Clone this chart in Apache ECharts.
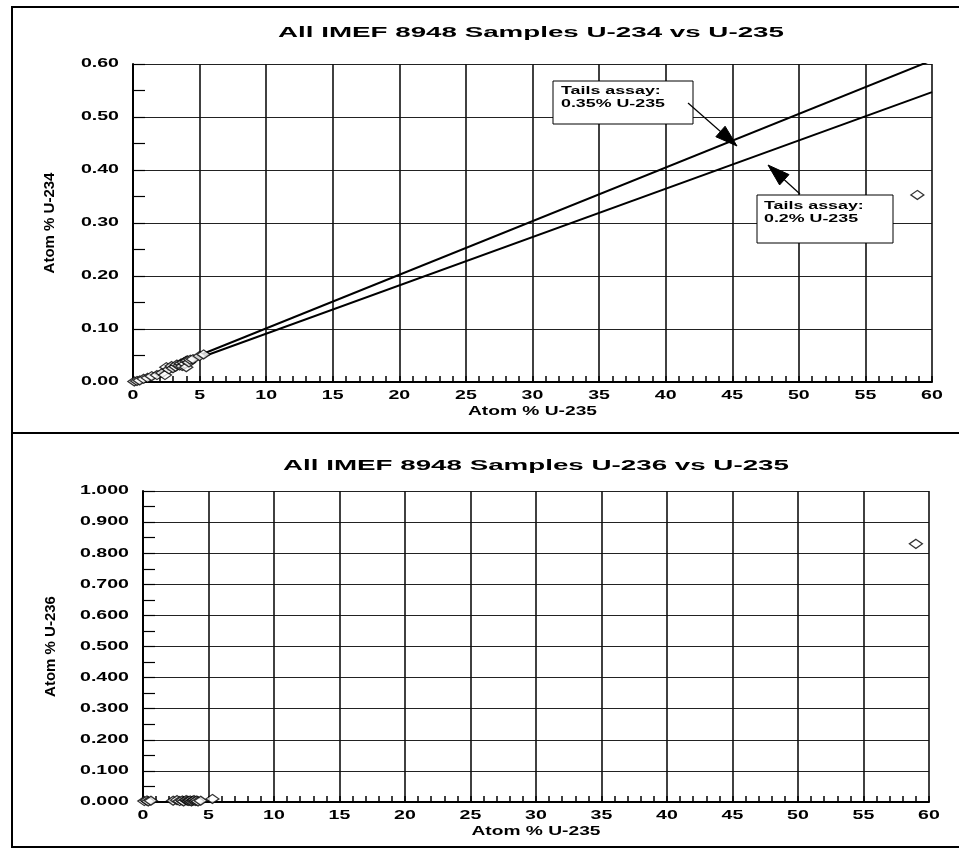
<!DOCTYPE html>
<html><head><meta charset="utf-8">
<script src="https://cdn.jsdelivr.net/npm/echarts@6/dist/echarts.min.js"></script>
<style>html,body{margin:0;padding:0;background:#fff}#c{width:959px;height:860px}</style>
</head><body><div id="c"></div>
<script>
// ---- data ----
const titleTop = 'All IMEF 8948 Samples U-234 vs U-235';
const titleBot = 'All IMEF 8948 Samples U-236 vs U-235';
const xName = 'Atom % U-235';
const yNameTop = 'Atom % U-234';
const yNameBot = 'Atom % U-236';

// U-234 vs U-235 samples
const u235Top = [0.1, 0.3, 0.5, 0.8, 1.1, 1.4, 1.8, 2.2, 2.4, 2.5, 2.7, 2.9, 3.0, 3.2, 3.3, 3.5, 3.6, 3.7, 3.8, 3.9, 4.0, 4.0, 4.1, 4.2, 4.3, 4.5, 5.0, 5.3, 58.9];
const u234Top = [0.001, 0.002, 0.003, 0.006, 0.008, 0.011, 0.013, 0.017, 0.013, 0.028, 0.024, 0.030, 0.026, 0.029, 0.033, 0.031, 0.035, 0.030, 0.037, 0.034, 0.040, 0.028, 0.041, 0.037, 0.042, 0.043, 0.049, 0.052, 0.353];

// Tails assay reference lines (end points)
const tailsX = [0, 60];
const tails035Y = [0, 0.607];
const tails020Y = [0, 0.547];

// U-236 vs U-235 samples
const u235Bot = [0.1, 0.3, 0.4, 0.6, 2.3, 2.6, 2.8, 3.0, 3.1, 3.3, 3.4, 3.5, 3.6, 3.7, 3.8, 3.9, 4.0, 4.1, 4.2, 4.4, 5.3, 59.0];
const u236Bot = [0.003, 0.005, 0.002, 0.004, 0.004, 0.006, 0.003, 0.005, 0.002, 0.006, 0.004, 0.003, 0.005, 0.002, 0.004, 0.006, 0.003, 0.005, 0.002, 0.004, 0.010, 0.830];

const note035 = 'Tails assay:\n0.35% U-235';
const note020 = 'Tails assay:\n0.2% U-235';

// ---- chart ----
const FONT = '"Liberation Sans", Arial, sans-serif';
const pairs = (xs, ys) => xs.map((x, i) => [x, ys[i]]);

function xAxis(gi) {
  return {
    type: 'value', gridIndex: gi, min: 0, max: 60, interval: 5,
    name: xName, nameLocation: 'middle', nameGap: 24,
    nameTextStyle: { fontFamily: FONT, fontWeight: 'bold', fontSize: 12, color: '#000' },
    axisLine: { show: true, onZero: false, lineStyle: { color: '#000', width: 2 } },
    axisTick: { show: true, inside: true, length: 6, lineStyle: { color: '#000', width: 1.5 } },
    minorTick: { show: true, splitNumber: 5, length: 6, lineStyle: { color: '#000', width: 1.5 } },
    axisLabel: { margin: 8, fontFamily: FONT, fontWeight: 'bold', fontSize: 12, color: '#000' },
    splitLine: { show: true, lineStyle: { color: '#111', width: 1.6 } },
    minorSplitLine: { show: false }
  };
}
function yAxis(gi, max, dec, name, gap) {
  return {
    type: 'value', gridIndex: gi, min: 0, max: max, interval: 0.1,
    name: name, nameLocation: 'middle', nameGap: gap,
    nameTextStyle: { fontFamily: FONT, fontWeight: 'bold', fontSize: 15, color: '#000' },
    axisLine: { show: true, onZero: false, lineStyle: { color: '#000', width: 2 } },
    axisTick: { show: true, inside: true, length: 12, lineStyle: { color: '#000', width: 1.2 } },
    minorTick: { show: true, splitNumber: 2, length: 12, lineStyle: { color: '#000', width: 1.2 } },
    axisLabel: { margin: 14, fontFamily: FONT, fontWeight: 'bold', fontSize: 12, color: '#000',
      formatter: v => v.toFixed(dec) },
    splitLine: { show: true, lineStyle: { color: '#222', width: 1 } },
    minorSplitLine: { show: false }
  };
}

function arrow(x1, y1, x2, y2) {
  const dx = x2 - x1, dy = y2 - y1, L = Math.hypot(dx, dy);
  const ux = dx / L, uy = dy / L, hl = 22, hw = 7;
  const bx = x2 - ux * hl, by = y2 - uy * hl;
  return [
    { type: 'line', z: 100, shape: { x1: x1, y1: y1, x2: bx, y2: by }, style: { stroke: '#000', lineWidth: 1.2 } },
    { type: 'polygon', z: 100, shape: { points: [[x2, y2], [bx - uy * hw, by + ux * hw], [bx + uy * hw, by - ux * hw]] },
      style: { fill: '#000', stroke: '#000' } }
  ];
}

const symbolStyle = { color: '#fff', borderColor: '#000', borderWidth: 1.3 };

const option = {
  animation: false,
  backgroundColor: '#fff',
  title: [
    { text: titleTop, left: 531, top: 25, textAlign: 'center', padding: 0,
      textStyle: { fontFamily: FONT, fontWeight: 'bold', fontSize: 15, color: '#000' } },
    { text: titleBot, left: 536, top: 458, textAlign: 'center', padding: 0,
      textStyle: { fontFamily: FONT, fontWeight: 'bold', fontSize: 15, color: '#000' } }
  ],
  grid: [
    { left: 133, top: 64, width: 799, height: 318, containLabel: false },
    { left: 143, top: 491, width: 786, height: 311, containLabel: false }
  ],
  xAxis: [xAxis(0), xAxis(1)],
  yAxis: [yAxis(0, 0.6, 2, yNameTop, 76), yAxis(1, 1.0, 3, yNameBot, 85)],
  series: [
    { type: 'line', xAxisIndex: 0, yAxisIndex: 0, data: pairs(tailsX, tails035Y), showSymbol: false,
      clip: true, lineStyle: { color: '#000', width: 2 }, z: 3 },
    { type: 'line', xAxisIndex: 0, yAxisIndex: 0, data: pairs(tailsX, tails020Y), showSymbol: false,
      clip: true, lineStyle: { color: '#000', width: 2 }, z: 3 },
    { type: 'scatter', xAxisIndex: 0, yAxisIndex: 0, data: pairs(u235Top, u234Top),
      symbol: 'diamond', symbolSize: [13, 9], itemStyle: symbolStyle, z: 4 },
    { type: 'scatter', xAxisIndex: 1, yAxisIndex: 1, data: pairs(u235Bot, u236Bot),
      symbol: 'diamond', symbolSize: [13, 9], itemStyle: symbolStyle, z: 4 }
  ],
  graphic: [
    // frame
    { type: 'polyline', z: 100, shape: { points: [[959, 7], [12, 7], [12, 847], [959, 847]] }, style: { stroke: '#000', lineWidth: 2, fill: null } },
    { type: 'line', z: 100, shape: { x1: 12, y1: 433, x2: 959, y2: 433 }, style: { stroke: '#000', lineWidth: 2 } },
    // annotation boxes
    { type: 'rect', z: 100, shape: { x: 553, y: 81, width: 140, height: 43 }, style: { fill: '#fff', stroke: '#000', lineWidth: 1 } },
    { type: 'text', z: 101, x: 561, y: 84, scaleX: 1.62,
      style: { text: note035, font: 'bold 11px "Liberation Sans", Arial, sans-serif', fill: '#000', lineHeight: 13, verticalAlign: 'top', align: 'left' } },
    { type: 'rect', z: 100, shape: { x: 757, y: 195, width: 136, height: 48 }, style: { fill: '#fff', stroke: '#000', lineWidth: 1 } },
    { type: 'text', z: 101, x: 764, y: 199, scaleX: 1.62,
      style: { text: note020, font: 'bold 11px "Liberation Sans", Arial, sans-serif', fill: '#000', lineHeight: 13, verticalAlign: 'top', align: 'left' } },
    ...arrow(688, 103, 737, 146),
    ...arrow(800, 194, 768, 165)
  ]
};

const chart = echarts.init(document.getElementById('c'), null, { renderer: 'canvas' });
chart.setOption(option);

// widen horizontal text to match the stretched lettering of the reference
function stretchTexts() {
  const zr = chart.getZr();
  const fn = el => {
    if (el.type === 'text' && el.style && typeof el.style.text === 'string'
        && Math.abs(el.rotation || 0) < 0.01) {
      const t = el.style.text;
      let s = 0;
      if (/^All IMEF/.test(t)) s = 1.85;
      else if (/^[0-9.]+$/.test(t)) s = 1.63;
      else if (t === xName) s = 1.6;
      if (s) { el.scaleX = s; el.markRedraw(); }
    }
  };
  zr.storage.getRoots().forEach(r => { fn(r); if (r.traverse) r.traverse(fn); });
  zr.refreshImmediately();
}
stretchTexts();
</script>
</body></html>
